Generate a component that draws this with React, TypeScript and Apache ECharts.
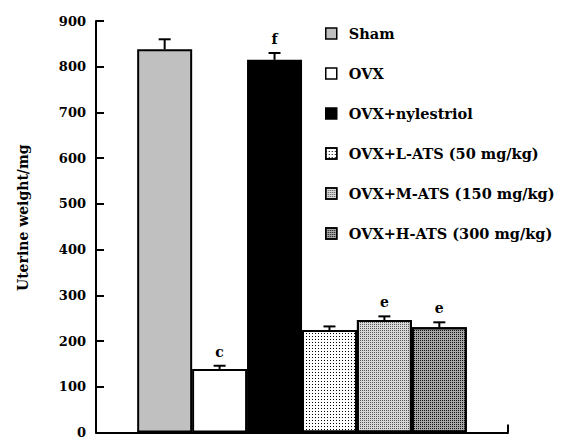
import React, { useEffect, useRef } from "react";
import * as echarts from "echarts";

const groups = [
  "Sham",
  "OVX",
  "OVX+nylestriol",
  "OVX+L-ATS (50 mg/kg)",
  "OVX+M-ATS (150 mg/kg)",
  "OVX+H-ATS (300 mg/kg)",
];
const means = [838, 139, 815, 224, 246, 230];
const errors = [22, 7, 15, 8, 8, 11];
const letters = ["", "c", "f", "", "e", "e"];
const positions = [1.25, 2.25, 3.25, 4.25, 5.25, 6.25];
const yTicks = { min: 0, max: 900, interval: 100 };

const FONT = "DejaVu Serif";

const fills: any[] = [
  { color: "#c0c0c0" },
  { color: "#ffffff" },
  { color: "#000000" },
  {
    color: "#ffffff",
    decal: { symbol: "rect", symbolSize: 1, color: "#000", dashArrayX: [1, 2], dashArrayY: [1, 2], rotation: 0 },
  },
  {
    color: "#d8d8d8",
    decal: { symbol: "rect", symbolSize: 1, color: "#555", dashArrayX: [1, 1], dashArrayY: [1, 1], rotation: 0 },
  },
  {
    color: "#a8a8a8",
    decal: { symbol: "rect", symbolSize: 1, color: "#111", dashArrayX: [1, 1], dashArrayY: [1, 1], rotation: 0 },
  },
];

export default function App() {
  const ref = useRef<HTMLDivElement>(null);
  useEffect(() => {
    if (!ref.current) return;
    const chart = echarts.init(ref.current, undefined, { renderer: "svg" });
    const barSeries = groups.map((g, i) => ({
      type: "bar",
      name: g,
      data: [[positions[i], means[i]]],
      barWidth: 55,
      barGap: "-100%",
      itemStyle: { ...fills[i], borderColor: "#000", borderWidth: 2 },
      z: 2,
    }));
    const errData = groups.map((g, i) => [positions[i], means[i], errors[i], letters[i]]);
    const option: any = {
      animation: false,
      backgroundColor: "#fff",
      grid: { left: 96, right: 56, top: 21, bottom: 4, containLabel: false },
      legend: {
        orient: "vertical",
        left: 320,
        top: 20,
        itemWidth: 11,
        itemHeight: 11,
        itemGap: 23,
        icon: "rect",
        itemStyle: { borderColor: "#000", borderWidth: 1.5 },
        textStyle: {
          fontFamily: FONT,
          fontWeight: "bold",
          fontSize: 14.5,
          color: "#000",
          lineHeight: 17,
          padding: [0, 0, 0, 7],
        },
        data: groups,
        selectedMode: false,
      },
      xAxis: {
        type: "value",
        min: 0,
        max: 7.5,
        interval: 7.5,
        axisLine: { onZero: false, lineStyle: { color: "#000", width: 2 } },
        axisTick: { show: true, inside: true, length: 8, lineStyle: { color: "#000", width: 2 } },
        axisLabel: { show: false },
        splitLine: { show: false },
      },
      yAxis: {
        type: "value",
        min: yTicks.min,
        max: yTicks.max,
        interval: yTicks.interval,
        name: "Uterine weight/mg",
        nameLocation: "middle",
        nameGap: 66,
        nameTextStyle: { fontFamily: FONT, fontWeight: "bold", fontSize: 14, color: "#000", padding: [0, 0, 0, 18] },
        axisLine: { show: true, lineStyle: { color: "#000", width: 2 } },
        axisTick: { show: true, inside: true, length: 8, lineStyle: { color: "#000", width: 2 } },
        axisLabel: { fontFamily: FONT, fontWeight: "bold", fontSize: 13, color: "#000", margin: 10 },
        splitLine: { show: false },
      },
      series: [
        ...barSeries,
        {
          type: "custom",
          z: 5,
          encode: { x: 0, y: 1 },
          data: errData,
          renderItem: (params: any, api: any) => {
            const x = api.value(0);
            const m = api.value(1);
            const e = api.value(2);
            const letter = errData[params.dataIndex][3] as string;
            const top = api.coord([x, m]);
            const et = api.coord([x, m + e]);
            const children: any[] = [
              { type: "line", shape: { x1: top[0], y1: top[1], x2: et[0], y2: et[1] }, style: { stroke: "#000", lineWidth: 2 } },
              { type: "line", shape: { x1: et[0] - 6, y1: et[1], x2: et[0] + 6, y2: et[1] }, style: { stroke: "#000", lineWidth: 2 } },
            ];
            if (letter) {
              children.push({
                type: "text",
                style: {
                  text: letter,
                  x: et[0],
                  y: et[1] - 14,
                  align: "center",
                  verticalAlign: "middle",
                  fontFamily: FONT,
                  fontWeight: "bold",
                  fontSize: 14,
                  fill: "#000",
                },
              });
            }
            return { type: "group", children };
          },
        },
      ],
    };
    chart.setOption(option);
    return () => chart.dispose();
  }, []);
  return <div ref={ref} style={{ position: "absolute", left: 0, top: 0, width: 564, height: 439 }} />;
}
